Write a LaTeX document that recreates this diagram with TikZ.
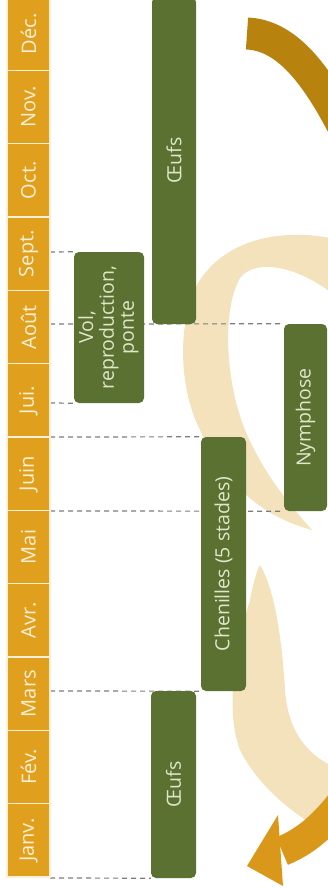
\documentclass[tikz,border=0pt]{standalone}
\usepackage{fontspec}
\newfontfamily\cyclefont{Open Sans}
\usetikzlibrary{backgrounds}

\definecolor{monthorange}{RGB}{224,160,30}
\definecolor{monthtext}{RGB}{250,240,214}
\definecolor{stagegreen}{RGB}{90,113,50}
\definecolor{stagetext}{RGB}{224,231,200}
\definecolor{swirlbeige}{RGB}{243,226,188}
\definecolor{arrowgold}{RGB}{184,130,14}
\definecolor{arroworange}{RGB}{218,152,26}
\definecolor{guidegray}{RGB}{125,125,125}

\newcommand{\turnlabel}[1]{\rotatebox{90}{#1}}

\tikzset{
  month/.style={fill=monthorange, draw=monthtext, line width=1.4pt, minimum width=43pt, minimum height=73.33pt, inner sep=0pt, text=monthtext, font=\cyclefont\fontsize{20}{22}\selectfont},
  stage/.style={fill=stagegreen, rounded corners=5pt, inner sep=0pt, text=stagetext, font=\cyclefont\fontsize{19.5}{20}\selectfont},
  guide/.style={guidegray, line width=1.2pt, dash pattern=on 5pt off 4pt},
}

\begin{document}
\begin{tikzpicture}[x=1pt,y=1pt,yscale=-1,xscale=1]
\useasboundingbox (0,0) rectangle (328,888);

% Months
\node [month] (janv) at (28.5,840.3) {\turnlabel{Janv.}};
\node [month] (fev)  at (28.5,767.0) {\turnlabel{Fév.}};
\node [month] (mars) at (28.5,693.7) {\turnlabel{Mars}};
\node [month] (avr)  at (28.5,620.3) {\turnlabel{Avr.}};
\node [month] (mai)  at (28.5,547.0) {\turnlabel{Mai}};
\node [month] (juin) at (28.5,473.7) {\turnlabel{Juin}};
\node [month] (juil) at (28.5,400.3) {\turnlabel{Jui.}};
\node [month] (aout) at (28.5,327.0) {\turnlabel{Août}};
\node [month] (sept) at (28.5,253.7) {\turnlabel{Sept.}};
\node [month] (oct)  at (28.5,180.3) {\turnlabel{Oct.}};
\node [month] (nov)  at (28.5,107.0) {\turnlabel{Nov.}};
\node [month] (dec)  at (28.5,33.7)  {\turnlabel{Déc.}};

% Stages
\node [stage, minimum width=44pt, minimum height=327pt] (oeufsA) at (174,160.5) {\turnlabel{Œufs}};
\node [stage, minimum width=70pt, minimum height=151pt] (vol) at (109,327.5) {\turnlabel{\begin{tabular}{@{}c@{}}Vol,\\reproduction,\\ponte\end{tabular}}};
\node [stage, minimum width=43pt, minimum height=187pt] (nymphe) at (305.5,417.5) {\turnlabel{Nymphose}};
\node [stage, minimum width=45pt, minimum height=254pt] (chenilles) at (223.5,564) {\turnlabel{Chenilles (5 stades)}};
\node [stage, minimum width=45pt, minimum height=187pt] (oeufsB) at (173.5,784.5) {\turnlabel{Œufs}};

% Guide ends on the month column
\coordinate (gVolTop) at (50,252);
\coordinate (gAug) at (50,324);
\coordinate (gVolBot) at (50,403);
\coordinate (gJun) at (50,437);
\coordinate (gMay) at (50,511);
\coordinate (gMar) at (50,691);
\coordinate (gJan) at (50,878);

\begin{scope}[on background layer]
\begin{scope}
\clip (0,0) rectangle (328,888);
%Shape: upper swirl
\fill [swirlbeige] (340,240) .. controls (290,228) and (230,235) .. (200,280) .. controls (180,310) and (175,380) .. (200,430) .. controls (220,475) and (255,515) .. (312,530) .. controls (285,500) and (262,470) .. (245,430) .. controls (225,380) and (222,310) .. (240,278) .. controls (255,258) and (300,265) .. (340,300) -- cycle;
%Shape: lower swirl
\fill [swirlbeige] (260,565) .. controls (275,590) and (282,640) .. (285,690) .. controls (288,730) and (305,755) .. (340,770) -- (340,840) .. controls (300,820) and (260,790) .. (240,750) .. controls (225,710) and (235,650) .. (250,600) .. controls (253,585) and (256,572) .. (260,565) -- cycle;
%Shape: top arrow
\draw [arrowgold, line width=32pt] (247,33.5) .. controls (282,35) and (312,65) .. (345,130);
%Shape: bottom arrow
\draw [arroworange, line width=30pt] (358,780) .. controls (332,818) and (310,840) .. (282,851);
\fill [arroworange] (278,815) -- (247,866) -- (283,886) -- cycle;
\end{scope}

%Guides
\draw [guide] (gVolTop) -- (vol.north west);
\draw [guide] (gAug) -- (nymphe.north west);
\draw [guide] (gVolBot) -- (vol.south west);
\draw [guide] (gJun) -- (chenilles.north west);
\draw [guide] (gMay) -- (nymphe.south west);
\draw [guide] (gMar) -- (chenilles.south west);
\draw [guide] (gJan) -- (oeufsB.south west);
\end{scope}

\end{tikzpicture}
\end{document}
